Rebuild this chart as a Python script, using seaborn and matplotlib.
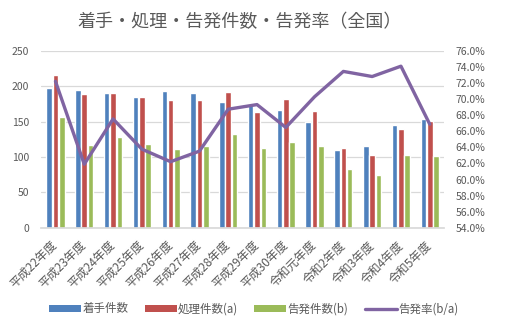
import numpy as np
import pandas as pd
import matplotlib
matplotlib.use("Agg")
import matplotlib.pyplot as plt
import matplotlib.ticker as mticker
from matplotlib.patches import Patch
from matplotlib.lines import Line2D
import seaborn as sns

# 年度別の着手・処理・告発件数
years = ["平成22年度", "平成23年度", "平成24年度", "平成25年度", "平成26年度",
         "平成27年度", "平成28年度", "平成29年度", "平成30年度", "令和元年度",
         "令和2年度", "令和3年度", "令和4年度", "令和5年度"]
chakushu = [197, 195, 190, 185, 194, 190, 178, 174, 166, 150, 110, 116, 145, 154]
shori = [216, 189, 191, 185, 180, 181, 192, 163, 182, 165, 113, 103, 139, 151]
kokuhatsu = [156, 117, 129, 118, 112, 115, 132, 113, 121, 116, 83, 75, 103, 101]
# 告発率 = 告発件数 / 処理件数
rate = [b / a * 100 for a, b in zip(shori, kokuhatsu)]

series_names = ["着手件数", "処理件数(a)", "告発件数(b)"]
rate_name = "告発率(b/a)"
colors = ["#4F81BD", "#C0504D", "#9BBB59"]
line_color = "#8064A2"
text_color = "#595959"

sns.set_theme(style="white")
plt.rcParams["font.family"] = ["Noto Sans CJK JP", "DejaVu Sans"]

df = pd.DataFrame({
    "年度": years * 3,
    "件数": chakushu + shori + kokuhatsu,
    "区分": [series_names[0]] * len(years) + [series_names[1]] * len(years)
            + [series_names[2]] * len(years),
})

fig = plt.figure(figsize=(5.07, 3.35), dpi=100)
ax = fig.add_axes([0.081, 0.32, 0.795, 0.528])

sns.barplot(data=df, x="年度", y="件数", hue="区分", hue_order=series_names,
            palette=colors, width=0.66, gap=0.12, saturation=1, ax=ax,
            legend=False)

ax.set_ylim(0, 250)
ax.set_yticks(np.arange(0, 251, 50))
ax.set_xlim(-0.5, len(years) - 0.5)
ax.yaxis.grid(True, color="#D9D9D9", linewidth=0.9)
ax.set_axisbelow(True)
for side in ["top", "right", "left"]:
    ax.spines[side].set_visible(False)
ax.spines["bottom"].set_color("#D9D9D9")
ax.set_xlabel("")
ax.set_ylabel("")
ax.tick_params(axis="y", length=0, labelsize=7.5, labelcolor=text_color, pad=8.5)
ax.tick_params(axis="x", length=0, labelsize=8.6, labelcolor=text_color, pad=11)
plt.setp(ax.get_xticklabels(), rotation=45, ha="right", va="center",
         rotation_mode="anchor")

ax2 = ax.twinx()
sns.lineplot(x=np.arange(len(years)), y=rate, color=line_color, linewidth=2.4,
             ax=ax2, legend=False)
ax2.set_ylim(54, 76)
ax2.set_yticks(np.arange(54, 76.1, 2))
ax2.yaxis.set_major_formatter(mticker.FuncFormatter(lambda v, p: f"{v:.1f}%"))
ax2.tick_params(axis="y", length=0, labelsize=7.5, labelcolor=text_color, pad=8)
for side in ["top", "right", "left", "bottom"]:
    ax2.spines[side].set_visible(False)
ax2.set_ylabel("")

fig.text(0.473, 0.934, "着手・処理・告発件数・告発率（全国）", ha="center",
         va="center", fontsize=13, color=text_color)

handles = [Patch(facecolor=c, edgecolor="none") for c in colors]
handles.append(Line2D([0], [0], color=line_color, linewidth=2.4))
fig.legend(handles, series_names + [rate_name], loc="center",
           bbox_to_anchor=(0.5, 0.078), ncol=4, frameon=False,
           fontsize=8.3, labelcolor=text_color, handlelength=2.8,
           handleheight=0.6, handletextpad=0.1, columnspacing=1.4)

fig.savefig("out.png", dpi=100)
